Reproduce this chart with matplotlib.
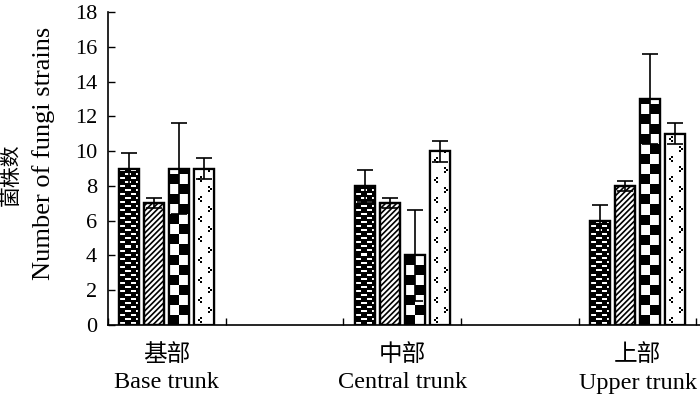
import matplotlib
matplotlib.use("Agg")
import matplotlib.pyplot as plt
import matplotlib.transforms as mtransforms
import numpy as np

plt.rcParams['font.family'] = ['Liberation Serif', 'Noto Sans CJK SC']
plt.rcParams['hatch.linewidth'] = 1.2

# --- Data ---
groups_cn = ["基部", "中部", "上部"]
groups_en = ["Base trunk", "Central trunk", "Upper trunk"]
group_pos = [0.5, 2.5, 4.5]

series1 = [9, 8, 6]
series2 = [7, 7, 8]
series3 = [9, 4, 13]
series4 = [9, 10, 11]

err1 = [0.9, 0.9, 0.9]
err2 = [0.3, 0.3, 0.3]
err3 = [2.6, 2.6, 2.6]
err4 = [0.6, 0.6, 0.6]

values = [series1, series2, series3, series4]
errors = [err1, err2, err3, err4]

# --- Pixel tiles for the fill patterns ---
def brick_tile():
    t = np.zeros((8, 10))
    t[1:3, 1:6] = 1
    t[5:7, 6:10] = 1
    t[5:7, 0] = 1
    return t

def checker_tile():
    t = np.ones((20, 20))
    t[0:10, 0:10] = 0
    t[10:20, 10:20] = 0
    return t

def dots_tile():
    t = np.ones((20, 20))
    # small '<' and '>' marks
    t[2:4, 6:8] = 0; t[4:6, 4:6] = 0; t[6:8, 6:8] = 0
    t[12:14, 13:15] = 0; t[14:16, 15:17] = 0; t[16:18, 13:15] = 0
    return t

def pattern_fill(ax, rect, tile):
    x0, y0 = rect.get_x(), rect.get_y()
    x1, y1 = x0 + rect.get_width(), y0 + rect.get_height()
    p0 = ax.transData.transform((x0, y0))
    p1 = ax.transData.transform((x1, y1))
    w = int(round(abs(p1[0] - p0[0])))
    h = int(round(abs(p1[1] - p0[1])))
    th, tw = tile.shape
    img = np.tile(tile, (h // th + 2, w // tw + 2))[:h, :w]
    im = ax.imshow(img, cmap="gray", vmin=0, vmax=1, interpolation="nearest",
                   extent=(x0, x1, y0, y1), origin="lower", aspect="auto", zorder=2.5)
    im.set_clip_path(rect)

fig = plt.figure(figsize=(7, 3.98), dpi=100)
ax = fig.add_axes([108 / 700, 1 - 325 / 398, 592 / 700, 313 / 398])
ax.set_xlim(0, 5.03)
ax.set_ylim(0, 18)

bar_w = 0.17
offsets = [-0.318, -0.106, 0.106, 0.318]
tiles = [brick_tile(), None, checker_tile(), dots_tile()]

for k in range(4):
    xs = [g + offsets[k] for g in group_pos]
    bars = ax.bar(xs, values[k], width=bar_w, color="white", edgecolor="black",
                  linewidth=1.6, zorder=2)
    if k == 1:
        for b in bars:
            b.set_hatch("//////")
    else:
        for b in bars:
            pattern_fill(ax, b, tiles[k])
    ax.bar(xs, values[k], width=bar_w, fill=False, edgecolor="black",
           linewidth=1.6, zorder=3)
    ax.errorbar(xs, values[k], yerr=errors[k], fmt="none", ecolor="black",
                elinewidth=1.2, capsize=6, capthick=1.2, zorder=4)

ax.spines['top'].set_visible(False)
ax.spines['right'].set_visible(False)
ax.spines['left'].set_linewidth(1.2)
ax.spines['bottom'].set_linewidth(1.2)

ax.set_yticks(range(0, 19, 2))
ax.set_xticks(range(0, 6))
ax.set_xticklabels([])
ax.tick_params(axis='y', direction='in', length=5, width=1, labelsize=16, pad=8)
ax.tick_params(axis='x', direction='in', length=5, width=1)

trans = mtransforms.blended_transform_factory(ax.transData, fig.transFigure)
for g, cn, en in zip(group_pos, groups_cn, groups_en):
    ax.text(g, 1 - 355 / 398, cn, transform=trans, ha="center", va="center", fontsize=17)
    ax.text(g, 1 - 383 / 398, en, transform=trans, ha="center", va="center", fontsize=17.5)

fig.text(12 / 700, 1 - 175 / 398, "菌株数", rotation=90, ha="center", va="center", fontsize=15)
fig.text(44 / 700, 1 - 153 / 398, "Number of fungi strains", rotation=90,
         ha="center", va="center", fontsize=19)

fig.savefig("out.png", dpi=100)
